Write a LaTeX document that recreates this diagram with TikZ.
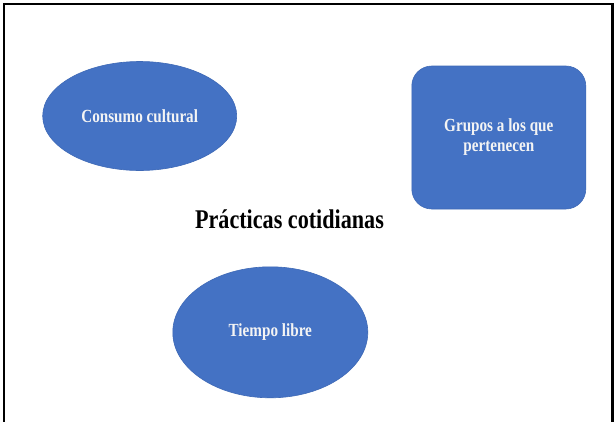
\documentclass[tikz,border=0pt]{standalone}
\usepackage{fontspec}
\setmainfont{Liberation Serif}[FakeStretch=0.82]
\usetikzlibrary{shapes.geometric}
\definecolor{boxblue}{HTML}{4472C4}
\definecolor{edgeblue}{HTML}{3E69B6}
\definecolor{lighttext}{HTML}{F4F4F4}
\tikzset{
  blob/.style={ellipse, fill=boxblue, draw=edgeblue, line width=0.6pt, inner sep=0pt,
    text=lighttext, font=\fontsize{18.5}{20}\selectfont\bfseries, align=center},
  roundbox/.style={rectangle, rounded corners=20pt, fill=boxblue, draw=edgeblue, line width=0.6pt,
    inner sep=0pt, text=lighttext, font=\fontsize{18.5}{20}\selectfont\bfseries, align=center},
  titletext/.style={font=\fontsize{27}{30}\selectfont\bfseries, text=black, inner sep=0pt}
}
\begin{document}
\begin{tikzpicture}[x=1pt,y=-1pt]
\useasboundingbox (0,0) rectangle (616,421);
\fill[white] (0,0) rectangle (616,421);
\draw[line width=2.2pt] (3.8,425) -- (3.8,3.8) -- (612.4,3.8) -- (612.4,425);
\node[blob, minimum width=194pt, minimum height=109pt] (consumo) at (139.7,116) {Consumo cultural};
\node[roundbox, minimum width=174pt, minimum height=143pt] (grupos) at (498.8,137.5) {Grupos a los que\\pertenecen};
\node[blob, minimum width=195pt, minimum height=131pt] (tiempo) at (270.3,332.3) {Tiempo libre};
\node[titletext, anchor=base] (titulo) at (289.5,228) {Prácticas cotidianas};
\end{tikzpicture}
\end{document}
